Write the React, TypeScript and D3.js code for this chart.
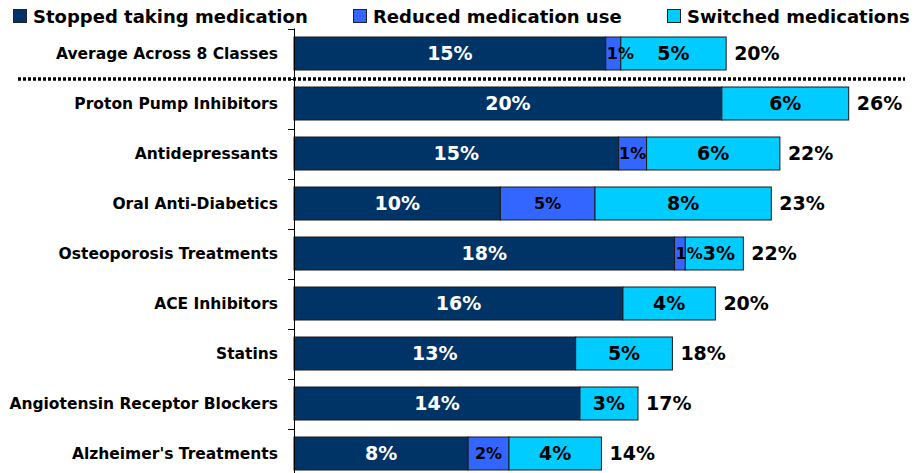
import React from "react";
import * as d3 from "d3";

const categories = [
  "Average Across 8 Classes",
  "Proton Pump Inhibitors",
  "Antidepressants",
  "Oral Anti-Diabetics",
  "Osteoporosis Treatments",
  "ACE Inhibitors",
  "Statins",
  "Angiotensin Receptor Blockers",
  "Alzheimer's Treatments",
];
const seriesNames = ["Stopped taking medication", "Reduced medication use", "Switched medications"];
const stopped = [14.5, 19.9, 15.1, 9.6, 17.7, 15.3, 13.1, 13.3, 8.1];
const reduced = [0.7, 0, 1.3, 4.4, 0.5, 0, 0, 0, 1.9];
const switched = [4.9, 5.9, 6.2, 8.2, 2.7, 4.3, 4.5, 2.7, 4.3];
const stoppedLabels = ["15%", "20%", "15%", "10%", "18%", "16%", "13%", "14%", "8%"];
const reducedLabels = ["1%", "", "1%", "5%", "1%", "", "", "", "2%"];
const switchedLabels = ["5%", "6%", "6%", "8%", "3%", "4%", "5%", "3%", "4%"];
const totalLabels = ["20%", "26%", "22%", "23%", "22%", "20%", "18%", "17%", "14%"];

const colors = ["#003366", "#3366FF", "#00CCFF"];
const labelColors = ["#ffffff", "#000000", "#000000"];
const FONT = "'DejaVu Sans', Verdana, sans-serif";

function textWidth(s: string, size: number) {
  let w = 0;
  for (const ch of s) w += ch === "%" ? 1.002 : 0.696;
  return w * size;
}

export default function App() {
  const W = 915, H = 473;
  const x0 = 294;
  const x = d3.scaleLinear().domain([0, 28]).range([x0, x0 + 28 * 21.5]);
  const y = d3.scaleBand<string>().domain(categories).range([28.5, 478.5]).paddingInner(0.34).paddingOuter(0.17);
  const bandStep = y.step();
  const series = [stopped, reduced, switched];
  const labels = [stoppedLabels, reducedLabels, switchedLabels];
  const stack = categories.map((_, i) => {
    let acc = 0;
    return series.map((s) => {
      const start = acc;
      acc += s[i];
      return [start, acc];
    });
  });
  const legendX = [13, 353, 667];
  const ticks = d3.range(categories.length + 1).map((k) => 28.5 + k * bandStep);

  return (
    <svg width={W} height={H} style={{ position: "absolute", left: 0, top: 0, background: "#fff" }}>
      {seriesNames.map((n, j) => (
        <g key={n}>
          <rect x={legendX[j] + 0.5} y={9.5} width={13} height={13} fill={colors[j]} stroke="#222" strokeWidth={1} />
          <text x={legendX[j] + 20} y={22.5} fontFamily={FONT} fontWeight="bold" fontSize={18} fill="#000">
            {n}
          </text>
        </g>
      ))}
      {categories.map((c, i) => {
        const by = y(c)!;
        const bh = y.bandwidth();
        const cy = by + bh / 2;
        let prevRight = -Infinity;
        const placed = series.map((s, j) => {
          const txt = labels[j][i];
          if (!txt) return null;
          const size = j === 1 ? 16 : 19;
          const [a, b] = stack[i][j];
          const xa = x(a), xb = x(b);
          const w = textWidth(txt, size);
          let left = w > xb - xa ? xa + 1 : (xa + xb) / 2 - w / 2;
          if (left < prevRight) left = prevRight;
          prevRight = left + w;
          return { txt, size, left, j };
        });
        return (
          <g key={c}>
            <text x={278} y={cy} dy="0.36em" textAnchor="end" fontFamily={FONT} fontWeight="bold" fontSize={15.5} fill="#000">
              {c}
            </text>
            {series.map((s, j) => {
              if (s[i] <= 0) return null;
              const [a, b] = stack[i][j];
              return (
                <rect key={j} x={x(a)} y={by} width={x(b) - x(a)} height={bh} fill={colors[j]} stroke="#1a1a1a" strokeWidth={1} />
              );
            })}
            {placed.map((p) =>
              p ? (
                <text
                  key={"l" + p.j}
                  x={p.left}
                  y={cy}
                  dy="0.36em"
                  fontFamily={FONT}
                  fontWeight="bold"
                  fontSize={p.size}
                  fill={labelColors[p.j]}
                >
                  {p.txt}
                </text>
              ) : null
            )}
            <text x={x(stack[i][2][1]) + 8} y={cy} dy="0.36em" fontFamily={FONT} fontWeight="bold" fontSize={19} fill="#000">
              {totalLabels[i]}
            </text>
          </g>
        );
      })}
      <line x1={x0 + 0.5} x2={x0 + 0.5} y1={28.5} y2={H} stroke="#000" strokeWidth={1} />
      {ticks.map((t, k) => (
        <line key={k} x1={x0 - 6} x2={x0 + 0.5} y1={Math.round(t) + 0.5} y2={Math.round(t) + 0.5} stroke="#000" strokeWidth={1} />
      ))}
      <line x1={18} x2={905} y1={79} y2={79} stroke="#000" strokeWidth={3.5} strokeDasharray="3,2" />
    </svg>
  );
}
